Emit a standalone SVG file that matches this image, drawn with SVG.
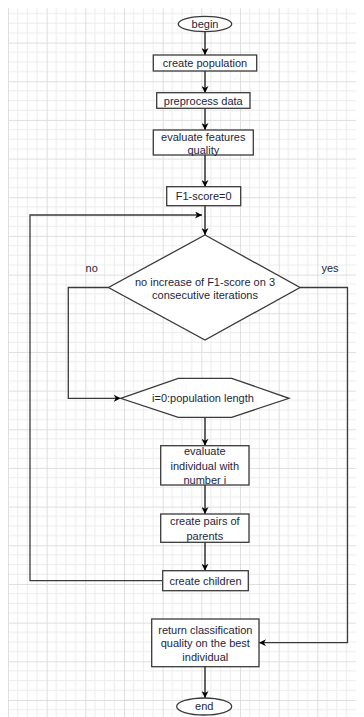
<svg xmlns="http://www.w3.org/2000/svg" width="364" height="717" viewBox="0 0 364 717">
<defs>
<pattern id="grid" x="8" y="3.9" width="38.67" height="38.67" patternUnits="userSpaceOnUse">
<path d="M9.67 0V38.67M19.33 0V38.67M29 0V38.67M0 9.67H38.67M0 19.33H38.67M0 29H38.67" stroke="#ececec" stroke-width="1" fill="none"/>
<path d="M0.5 0V38.67M0 0.5H38.67" stroke="#dedede" stroke-width="1" fill="none"/>
</pattern>
<marker id="arr" viewBox="0 0 10 10" refX="10" refY="5" markerWidth="7" markerHeight="7" markerUnits="userSpaceOnUse" orient="auto">
<path d="M0,0 L10,5 L0,10 L3,5 z" fill="#000"/>
</marker>
<style>
.n{fill:#fff;stroke:#3a3a3a;stroke-width:1.3}
.t{font-family:"Liberation Sans",Arial,sans-serif;font-size:11px;fill:#1e1e3c;text-anchor:middle;dominant-baseline:central}
.c{fill:none;stroke:#111;stroke-width:1.3}
.c2{fill:none;stroke:#3a3a3a;stroke-width:1.3}
</style>
</defs>
<rect x="0" y="0" width="364" height="717" fill="#fff"/>
<rect x="8" y="8" width="348" height="709" fill="url(#grid)"/>

<g id="connectors">
<path class="c" d="M205 31.7V55" marker-end="url(#arr)"/>
<path class="c" d="M205 71V93" marker-end="url(#arr)"/>
<path class="c" d="M205 108.3V130" marker-end="url(#arr)"/>
<path class="c" d="M205 155V187" marker-end="url(#arr)"/>
<path class="c" d="M205 205.7V235" marker-end="url(#arr)"/>
<path class="c2" d="M108.5 287.5H68.3V398.3H120.7" marker-end="url(#arr)"/>
<path class="c2" d="M300 287.5H347.5V642.7H259" marker-end="url(#arr)"/>
<path class="c" d="M205 417.3V445.7" marker-end="url(#arr)"/>
<path class="c" d="M205 485V514" marker-end="url(#arr)"/>
<path class="c" d="M205 542.3V570.7" marker-end="url(#arr)"/>
<path class="c2" d="M162.7 580.7H30V215H202" marker-end="url(#arr)"/>
<path class="c" d="M205 666.7V698" marker-end="url(#arr)"/>
</g>

<g id="begin">
<ellipse class="n" cx="205" cy="24" rx="26.7" ry="7.6"/>
<text class="t" x="205" y="23.5">begin</text>
</g>
<g id="create-population">
<rect class="n" x="153.3" y="55" width="103.4" height="16"/>
<text class="t" x="205" y="63">create population</text>
</g>
<g id="preprocess-data">
<rect class="n" x="156.7" y="92.7" width="93.3" height="15.6"/>
<text class="t" x="203.3" y="100.5">preprocess data</text>
</g>
<g id="evaluate-features">
<rect class="n" x="153.3" y="130" width="100" height="25"/>
<text class="t" x="203.3" y="136.5">evaluate features</text>
<text class="t" x="203.3" y="150">quality</text>
</g>
<g id="f1-score">
<rect class="n" x="166.7" y="186.7" width="74" height="19"/>
<text class="t" x="203.7" y="196.2">F1-score=0</text>
</g>
<g id="condition">
<path class="n" d="M205 235L300 287.5L205 340L108.5 287.5Z"/>
<text class="t" x="205" y="281.5">no increase of F1-score on 3</text>
<text class="t" x="205" y="294.5">consecutive iterations</text>
</g>
<g id="label-no">
<text class="t" x="91.7" y="268">no</text>
</g>
<g id="label-yes">
<text class="t" x="330" y="268">yes</text>
</g>
<g id="loop">
<path class="n" d="M120.7 398.3L178.3 378.3H231.7L289 398.3L231.7 417.3H178.3Z"/>
<text class="t" x="203" y="398">i=0:population length</text>
</g>
<g id="evaluate-individual">
<rect class="n" x="160.7" y="445.7" width="88.3" height="39.3"/>
<text class="t" x="204.8" y="451">evaluate</text>
<text class="t" x="204.8" y="465.5">individual with</text>
<text class="t" x="204.8" y="480">number i</text>
</g>
<g id="create-pairs">
<rect class="n" x="160.7" y="514" width="88.3" height="28.3"/>
<text class="t" x="204.8" y="521">create pairs of</text>
<text class="t" x="204.8" y="535.5">parents</text>
</g>
<g id="create-children">
<rect class="n" x="162.7" y="570.7" width="85.6" height="20"/>
<text class="t" x="205.5" y="580.7">create children</text>
</g>
<g id="return-quality">
<rect class="n" x="151.7" y="619" width="107.3" height="47.7"/>
<text class="t" x="205.3" y="629.5">return classification</text>
<text class="t" x="205.3" y="643.3">quality on the best</text>
<text class="t" x="205.3" y="657">individual</text>
</g>
<g id="end">
<ellipse class="n" cx="204.2" cy="706.5" rx="27.5" ry="8.5"/>
<text class="t" x="204.2" y="706">end</text>
</g>
</svg>
